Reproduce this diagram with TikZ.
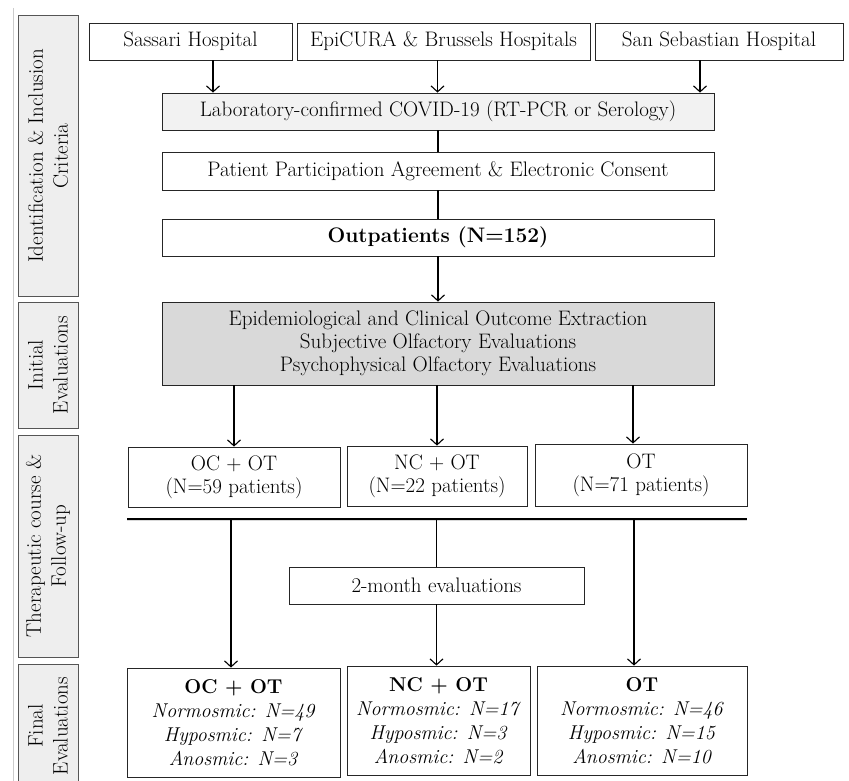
\documentclass[tikz,border=0pt]{standalone}
\usepackage{tikz}
\usetikzlibrary{arrows.meta,positioning}
\definecolor{stagegray}{RGB}{238,238,238}
\definecolor{labgray}{RGB}{242,242,242}
\definecolor{evalgray}{RGB}{217,217,217}
\definecolor{edgegray}{RGB}{85,85,85}
\begin{document}
\begin{tikzpicture}[x=1pt, y=-1pt, font=\fontsize{21}{23}\selectfont,
  box/.style={draw=black!85, line width=0.8pt, fill=white, inner sep=0pt, align=center},
  stage/.style={draw=edgegray, line width=1pt, fill=stagegray, inner sep=0pt, align=center, rotate=90, minimum height=60, font=\fontsize{21}{25}\selectfont},
  result/.style={box, minimum height=109, font=\fontsize{20}{24}\selectfont},
  flow/.style={line width=1.1pt, -{Straight Barb[length=6pt, width=13pt, line width=1.1pt]}},
  link/.style={line width=1.1pt}]
  \useasboundingbox (0,0) rectangle (849,781);
  \clip (0,0) rectangle (849,781);
  \draw[gray!40, line width=1pt] (13,8) -- (13,790);
  % Stages
  \node[stage, minimum width=280] (stid) at (48,156) {Identification \& Inclusion\\Criteria};
  \node[stage, minimum width=126] (stinit) at (48,365) {Initial\\Evaluations};
  \node[stage, minimum width=222] (stther) at (48,546) {Therapeutic course \&\\Follow-up};
  \node[stage, minimum width=124] (stfinal) at (48,726) {Final\\Evaluations};
  % Hospitals
  \node[box, minimum width=203, minimum height=37] (sassari) at (190.5,41.5) {Sassari Hospital};
  \node[box, minimum width=293, minimum height=37] (epicura) at (443.5,41.5) {EpiCURA \& Brussels Hospitals};
  \node[box, minimum width=248, minimum height=37] (sansebastian) at (719,41.5) {San Sebastian Hospital};
  % Inclusion
  \node[box, fill=labgray, minimum width=552, minimum height=37] (lab) at (438,111.5) {Laboratory-confirmed COVID-19 (RT-PCR or Serology)};
  \node[box, minimum width=552, minimum height=38] (consent) at (438,171) {Patient Participation Agreement \& Electronic Consent};
  \node[box, minimum width=552, minimum height=37] (outpat) at (438,237.5) {\textbf{Outpatients (N=152)}};
  \node[box, fill=evalgray, minimum width=552, minimum height=83] (evals) at (438,343.5) {Epidemiological and Clinical Outcome Extraction\\Subjective Olfactory Evaluations\\Psychophysical Olfactory Evaluations};
  % Treatment groups
  \node[box, minimum width=212, minimum height=60] (ocot) at (234,477) {OC + OT\\(N=59 patients)};
  \node[box, minimum width=180, minimum height=60] (ncot) at (437,476) {NC + OT\\(N=22 patients)};
  \node[box, minimum width=212, minimum height=62] (ot) at (641,475) {OT\\(N=71 patients)};
  \coordinate (barL) at (127,519);
  \coordinate (barR) at (747,519);
  \node[box, minimum width=295, minimum height=37] (twomonth) at (436.5,585.5) {2-month evaluations};
  % Final
  \node[result, minimum width=213] (finoc) at (233.5,722.5) {\textbf{OC + OT}\\\textit{Normosmic: N=49}\\\textit{Hyposmic: N=7}\\\textit{Anosmic: N=3}};
  \node[result, minimum width=183] (finnc) at (438.5,720.5) {\textbf{NC + OT}\\\textit{Normosmic: N=17}\\\textit{Hyposmic: N=3}\\\textit{Anosmic: N=2}};
  \node[result, minimum width=210] (finot) at (642,720.5) {\textbf{OT}\\\textit{Normosmic: N=46}\\\textit{Hyposmic: N=15}\\\textit{Anosmic: N=10}};
  % Connectors
  \draw[flow] ([xshift=22.5pt]sassari.south) -- ([xshift=22.5pt]sassari.south |- lab.north);
  \draw[flow] ([xshift=-6pt]epicura.south) -- ([xshift=-6pt]epicura.south |- lab.north);
  \draw[flow] ([xshift=-19pt]sansebastian.south) -- ([xshift=-19pt]sansebastian.south |- lab.north);
  \draw[link] (lab) -- (consent);
  \draw[link] (consent) -- (outpat);
  \draw[flow] (outpat) -- (evals);
  \draw[flow] (evals.south -| ocot.north) -- (ocot.north);
  \draw[flow] (evals.south -| ncot.north) -- (ncot.north);
  \draw[flow] ([xshift=-8pt]evals.south -| ot.north) -- ([xshift=-8pt]ot.north);
  \draw[gray!30, line width=2.5pt] ([yshift=-1pt]barL) -- ([yshift=-1pt]barR);
  \draw[line width=1.4pt] (barL) -- (barR);
  \draw[flow] ([xshift=-2.5pt]finoc.north |- barL) -- ([xshift=-2.5pt]finoc.north);
  \draw[link] (barL -| twomonth.north) -- (twomonth.north);
  \draw[flow] (twomonth.south) -- (twomonth.south |- finnc.north);
  \draw[flow] ([xshift=-8pt]finot.north |- barL) -- ([xshift=-8pt]finot.north);
\end{tikzpicture}
\end{document}
